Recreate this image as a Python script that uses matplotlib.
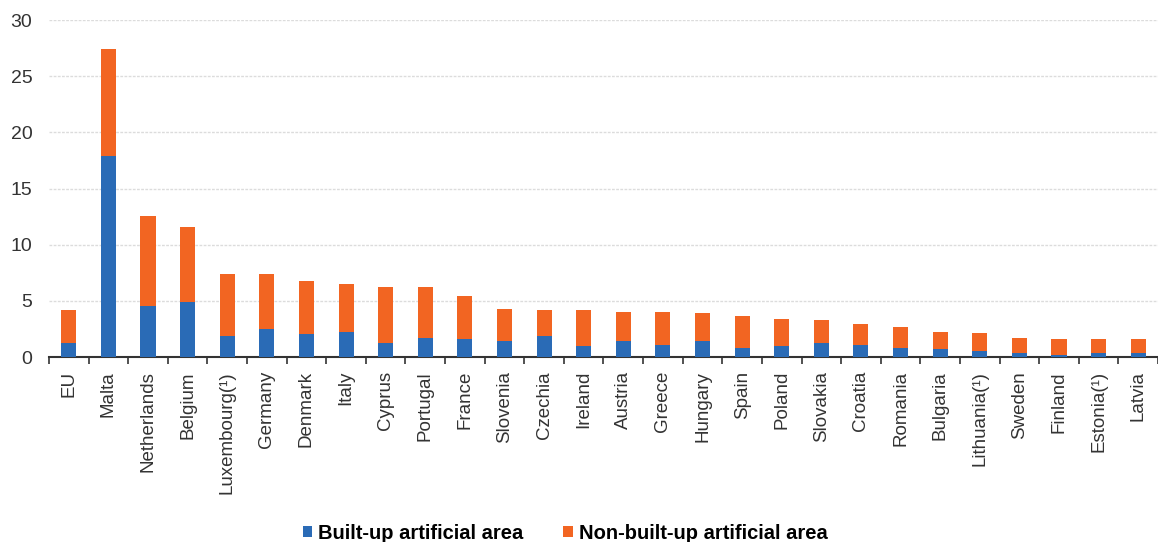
import numpy as np
import matplotlib
matplotlib.use("Agg")
import matplotlib.pyplot as plt
from matplotlib.ticker import FixedLocator

plt.rcParams['font.family'] = ['Liberation Sans', 'DejaVu Sans']

# values
countries = ["EU", "Malta", "Netherlands", "Belgium", "Luxembourg(¹)", "Germany",
             "Denmark", "Italy", "Cyprus", "Portugal", "France", "Slovenia",
             "Czechia", "Ireland", "Austria", "Greece", "Hungary", "Spain",
             "Poland", "Slovakia", "Croatia", "Romania", "Bulgaria",
             "Lithuania(¹)", "Sweden", "Finland", "Estonia(¹)", "Latvia"]
total = [4.2, 27.45, 12.57, 11.54, 7.38, 7.38,
         6.79, 6.5, 6.22, 6.22, 5.45, 4.3,
         4.18, 4.18, 4.06, 3.98, 3.9, 3.63,
         3.44, 3.32, 2.96, 2.67, 2.22,
         2.16, 1.75, 1.66, 1.66, 1.66]
built_up = [1.3, 17.9, 4.54, 4.89, 1.9, 2.49,
            2.07, 2.22, 1.29, 1.73, 1.58, 1.4,
            1.91, 1.02, 1.4, 1.1, 1.4, 0.86,
            1.03, 1.24, 1.09, 0.83, 0.74,
            0.53, 0.35, 0.23, 0.38, 0.38]
non_built = [t - b for t, b in zip(total, built_up)]

blue = "#2A6BB6"
orange = "#F26522"

fig = plt.figure(figsize=(11.58, 5.42), dpi=100)
ax = fig.add_axes([0.0423, 0.341, 0.9577, 0.622])

x = np.arange(len(countries))
ax.bar(x, built_up, width=0.38, color=blue, label="Built-up artificial area", zorder=3)
ax.bar(x, non_built, width=0.38, bottom=built_up, color=orange,
       label="Non-built-up artificial area", zorder=3)

ax.set_xlim(-0.5, len(countries) - 0.5)
ax.set_ylim(0, 30)
ax.set_yticks([0, 5, 10, 15, 20, 25, 30])
ax.yaxis.grid(True, color="#dcdcdc", linestyle=(0, (2, 1)), linewidth=1, zorder=0)
ax.tick_params(axis="y", length=0, labelsize=14, labelcolor="#333333", pad=12)

ax.set_xticks(x)
ax.set_xticklabels(countries, rotation=90, fontsize=13.5, color="#333333")
ax.tick_params(axis="x", which="major", length=0, pad=10)
ax.xaxis.set_minor_locator(FixedLocator(np.arange(-0.5, len(countries), 1.0)))
ax.tick_params(axis="x", which="minor", length=5, width=1.2, color="#333333")

for s in ["top", "right", "left"]:
    ax.spines[s].set_visible(False)
ax.spines["bottom"].set_color("#333333")
ax.spines["bottom"].set_linewidth(1.5)

fig.legend(loc="center", bbox_to_anchor=(0.488, 0.016), ncol=2, frameon=False,
           prop={"weight": "bold", "size": 14.5}, handlelength=0.45, handleheight=0.45,
           handletextpad=0.3, columnspacing=2.0, borderpad=0)

fig.savefig("out.png", dpi=100)
